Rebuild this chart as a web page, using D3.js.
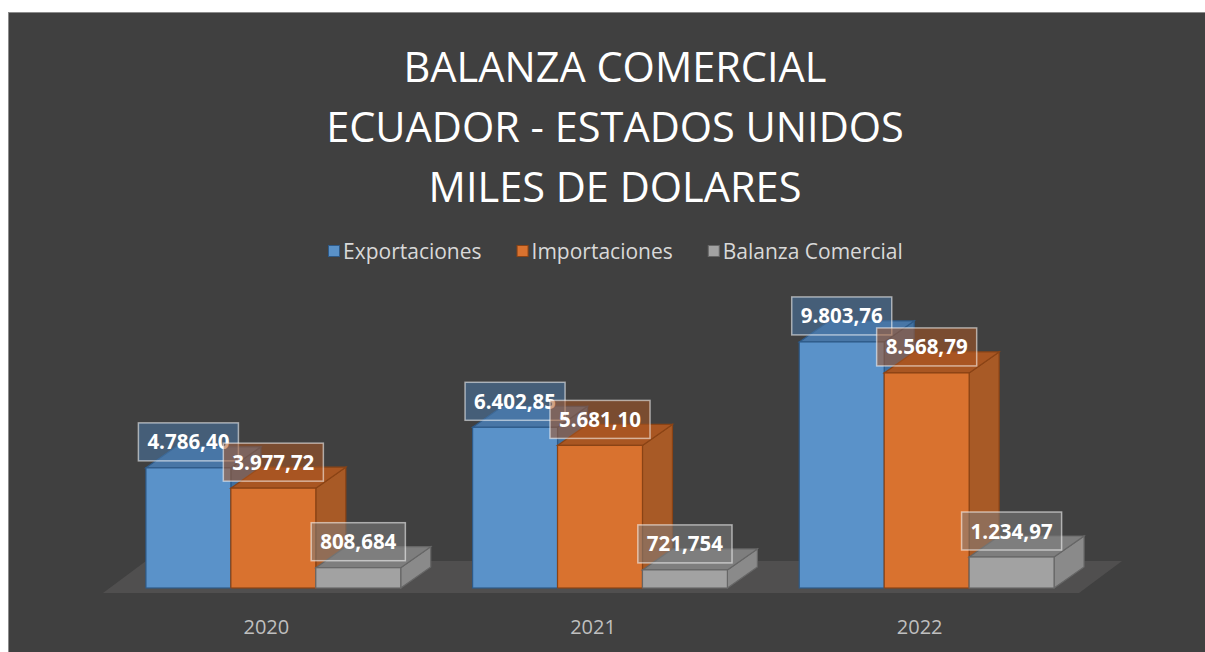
<!DOCTYPE html>
<html>
<head>
<meta charset="utf-8">
<script src="https://cdn.jsdelivr.net/npm/d3@7"></script>
<style>
  body { margin: 0; background: #fff; }
  text { font-family: "Open Sans", "Noto Sans", sans-serif; }
</style>
</head>
<body>
<div class="container"></div>
<script>
// data
const years = ['2020', '2021', '2022'];
const seriesNames = ['Exportaciones', 'Importaciones', 'Balanza Comercial'];
const exportaciones = [4786.40, 6402.85, 9803.76];
const importaciones = [3977.72, 5681.10, 8568.79];
const balanza = [808.684, 721.754, 1234.97];
const labelsExp = ['4.786,40', '6.402,85', '9.803,76'];
const labelsImp = ['3.977,72', '5.681,10', '8.568,79'];
const labelsBal = ['808,684', '721,754', '1.234,97'];
const titleLines = ['BALANZA COMERCIAL', 'ECUADOR - ESTADOS UNIDOS', 'MILES DE DOLARES'];

const w = 1205;
const h = 652;

// colours: front, top, side, edge
const colors = [
  { front: '#5a92c9', top: '#4876a6', side: '#41709f', edge: '#2e5a88' },
  { front: '#d9722f', top: '#a95622', side: '#a85a26', edge: '#8a4315' },
  { front: '#a2a2a2', top: '#7e7e7e', side: '#8a8a8a', edge: '#666666' }
];

const svg = d3.select('.container')
              .append('svg')
              .attr('width', w)
              .attr('height', h);

// chart frame
svg.append('rect')
   .attr('x', 8.5).attr('y', 12.5)
   .attr('width', w).attr('height', h)
   .attr('fill', '#404040')
   .attr('stroke', '#8c8c8c');

// title
svg.append('g').selectAll('text')
   .data(titleLines)
   .join('text')
   .attr('x', 615)
   .attr('y', (d, i) => 82 + i * 60)
   .attr('text-anchor', 'middle')
   .attr('fill', '#ffffff')
   .attr('font-size', 41.5)
   .text(d => d);

// legend
const legend = svg.append('g');
let lx = 328;
seriesNames.forEach((s, i) => {
  legend.append('rect')
        .attr('x', lx + 0.5).attr('y', 245.5)
        .attr('width', 11).attr('height', 11)
        .attr('fill', colors[i].front)
        .attr('stroke', colors[i].edge);
  const t = legend.append('text')
        .attr('x', lx + 15).attr('y', 258.5)
        .attr('fill', '#d9d9d9')
        .attr('font-size', 21)
        .text(s);
  lx += 15 + t.node().getComputedTextLength() + 35;
});

// scales
const baseY = 588;
const depthX = 30, depthY = -21;

const x0 = d3.scaleBand()
             .domain(years)
             .range([110, 1090])
             .paddingInner(0.22)
             .paddingOuter(0.11);
const x1 = d3.scaleBand()
             .domain(seriesNames)
             .range([0, x0.bandwidth()]);
const y = d3.scaleLinear()
            .domain([0, 10000])
            .range([baseY, 337]);

// floor
const [r0, r1] = x0.range();
svg.append('polygon')
   .attr('points', [
     [r0 - 7, baseY + 5], [r1 - 11, baseY + 5],
     [r1 + 32, baseY - 27], [r0 + 36, baseY - 27]
   ].map(p => p.join(',')).join(' '))
   .attr('fill', '#504f4f');

// rows of data per year
const rows = years.map((yr, i) => ({
  year: yr,
  values: [exportaciones[i], importaciones[i], balanza[i]],
  labels: [labelsExp[i], labelsImp[i], labelsBal[i]]
}));

const bars = [];
rows.forEach(r => {
  r.values.forEach((v, k) => {
    bars.push({ year: r.year, series: seriesNames[k], k, v, label: r.labels[k] });
  });
});

const plot = svg.append('g');
const pts = arr => arr.map(p => p.join(',')).join(' ');

bars.forEach(d => {
  const bx = x0(d.year) + x1(d.series);
  const bw = x1.bandwidth();
  const top = y(d.v);
  const c = colors[d.k];
  const g = plot.append('g');
  // right side
  g.append('polygon')
   .attr('points', pts([[bx + bw, top], [bx + bw + depthX, top + depthY],
                        [bx + bw + depthX, baseY + depthY], [bx + bw, baseY]]))
   .attr('fill', c.side).attr('stroke', c.edge).attr('stroke-width', 1.2);
  // top face
  g.append('polygon')
   .attr('points', pts([[bx, top], [bx + depthX, top + depthY],
                        [bx + bw + depthX, top + depthY], [bx + bw, top]]))
   .attr('fill', c.top).attr('stroke', c.edge).attr('stroke-width', 1.2);
  // front face
  g.append('rect')
   .attr('x', bx).attr('y', top)
   .attr('width', bw).attr('height', baseY - top)
   .attr('fill', c.front).attr('stroke', c.edge).attr('stroke-width', 1.2);
});

// data labels
const labels = svg.append('g');
bars.forEach(d => {
  const cx = x0(d.year) + x1(d.series) + x1.bandwidth() / 2;
  const cy = y(d.v) - 26;
  const g = labels.append('g');
  const box = g.append('rect');
  const t = g.append('text')
             .attr('x', cx).attr('y', cy + 7.5)
             .attr('text-anchor', 'middle')
             .attr('fill', '#ffffff')
             .attr('font-size', 20.5)
             .attr('font-weight', 'bold')
             .text(d.label);
  const tw = t.node().getComputedTextLength() + 18;
  box.attr('x', cx - tw / 2).attr('y', cy - 19)
     .attr('width', tw).attr('height', 38)
     .attr('fill', colors[d.k].top)
     .attr('fill-opacity', 0.55)
     .attr('stroke', '#ffffff')
     .attr('stroke-opacity', 0.55)
     .attr('stroke-width', 1.5);
});

// x axis
const xAxis = d3.axisBottom(x0).tickSize(0).tickPadding(0);
const xGroup = svg.append('g')
                  .attr('transform', `translate(-7, ${baseY + 46})`)
                  .call(xAxis);
xGroup.select('.domain').remove();
xGroup.selectAll('text')
      .attr('fill', '#bfbfbf')
      .attr('font-size', 20)
      .attr('font-family', '"Open Sans", sans-serif')
      .attr('dy', 0);
</script>
</body>
</html>
